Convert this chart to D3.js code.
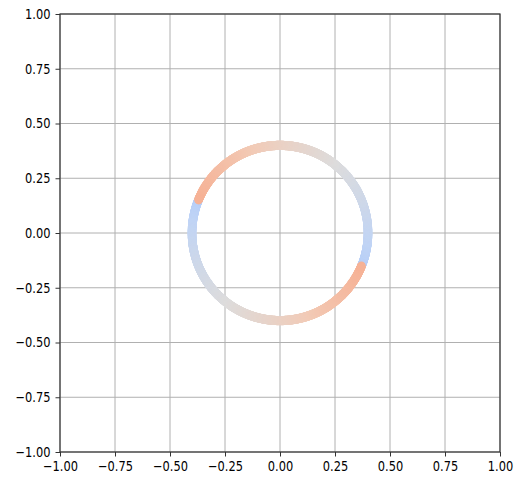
<!DOCTYPE html>
<html>
<head>
<meta charset="utf-8">
<script src="https://cdn.jsdelivr.net/npm/d3@7"></script>
<style>
  html, body { margin: 0; padding: 0; background: #fff; }
  svg { display: block; }
  .tick text { font-family: "DejaVu Sans", sans-serif; fill: #000; }
</style>
</head>
<body>
<svg id="chart" width="522" height="480"></svg>
<script>
// Axis ranges and tick labels
const xTicks = [-1.00, -0.75, -0.50, -0.25, 0.00, 0.25, 0.50, 0.75, 1.00];
const yTicks = [-1.00, -0.75, -0.50, -0.25, 0.00, 0.25, 0.50, 0.75, 1.00];

// Ring of points: centre, radius and the colour value read along it
const ringCenter = [0.0, 0.0];
const ringRadius = 0.4;
// angle (degrees, counter-clockwise from +x) -> colour value on the coolwarm scale
const stopAngles = [-22, 0, 30, 60, 90, 120, 158];
const stopValues = [0.37, 0.41, 0.46, 0.51, 0.56, 0.62, 0.68];

// coolwarm colormap nodes
const coolwarm = ["#3b4cc0", "#5572df", "#7b9ff9", "#9ebeff", "#c0d4f5", "#dddcdc",
                  "#f2cbb7", "#f7ac8e", "#ee8468", "#d65244", "#b40426"];
const cmap = d3.scaleLinear()
  .domain(d3.range(coolwarm.length).map(i => i / (coolwarm.length - 1)))
  .range(coolwarm)
  .interpolate(d3.interpolateRgb);

const svg = d3.select("#chart");
const plotLeft = 60, plotRight = 500, plotTop = 14, plotBottom = 452;

const x = d3.scaleLinear().domain([-1, 1]).range([plotLeft, plotRight]);
const y = d3.scaleLinear().domain([-1, 1]).range([plotBottom, plotTop]);

const fmt = d3.format(".2f");
const textScale = 0.816;

// grid
const grid = svg.append("g");
grid.selectAll("line.vx").data(xTicks).join("line")
  .attr("class", "vx")
  .attr("x1", d => x(d)).attr("x2", d => x(d))
  .attr("y1", plotTop).attr("y2", plotBottom)
  .attr("stroke", "#b0b0b0").attr("stroke-width", 1);
grid.selectAll("line.hy").data(yTicks).join("line")
  .attr("class", "hy")
  .attr("x1", plotLeft).attr("x2", plotRight)
  .attr("y1", d => y(d)).attr("y2", d => y(d))
  .attr("stroke", "#b0b0b0").attr("stroke-width", 1);

// ring colour as a function of angle (wraps every half turn)
const angleToValue = d3.scaleLinear().domain(stopAngles).range(stopValues).clamp(true);
function valueAt(deg) {
  let a = deg;
  while (a < stopAngles[0]) a += 180;
  while (a >= stopAngles[0] + 180) a -= 180;
  return angleToValue(a);
}

const steps = 1440;
const ringPts = d3.range(steps).map(i => {
  const deg = -180 + 360 * i / steps;
  const r = deg * Math.PI / 180;
  return {
    px: ringCenter[0] + ringRadius * Math.cos(r),
    py: ringCenter[1] + ringRadius * Math.sin(r),
    v: valueAt(deg)
  };
}).sort((a, b) => a.v - b.v);

const plot = svg.append("g");
plot.selectAll("ellipse").data(ringPts).join("ellipse")
  .attr("cx", d => x(d.px))
  .attr("cy", d => y(d.py))
  .attr("rx", 4.3)
  .attr("ry", 4.6)
  .attr("fill", d => cmap(d.v));

// axes
const xAxis = d3.axisBottom(x).tickValues(xTicks).tickFormat(fmt).tickSizeOuter(0).tickSize(4.5).tickPadding(5);
const yAxis = d3.axisLeft(y).tickValues(yTicks).tickFormat(fmt).tickSizeOuter(0).tickSize(4.5).tickPadding(5);

const gx = svg.append("g").attr("transform", `translate(0,${plotBottom})`).call(xAxis);
const gy = svg.append("g").attr("transform", `translate(${plotLeft},0)`).call(yAxis);
[gx, gy].forEach(g => {
  g.select(".domain").remove();
  g.selectAll(".tick line").attr("stroke", "#333").attr("stroke-width", 1);
  g.selectAll(".tick text").attr("font-size", 14);
});
gx.selectAll(".tick text").attr("transform", `scale(${textScale},1)`);
gy.selectAll(".tick text").attr("x", -9.5 / textScale).attr("transform", `scale(${textScale},1)`);

// frame
svg.append("rect")
  .attr("x", plotLeft).attr("y", plotTop)
  .attr("width", plotRight - plotLeft).attr("height", plotBottom - plotTop)
  .attr("fill", "none").attr("stroke", "#333").attr("stroke-width", 1.2);
</script>
</body>
</html>
